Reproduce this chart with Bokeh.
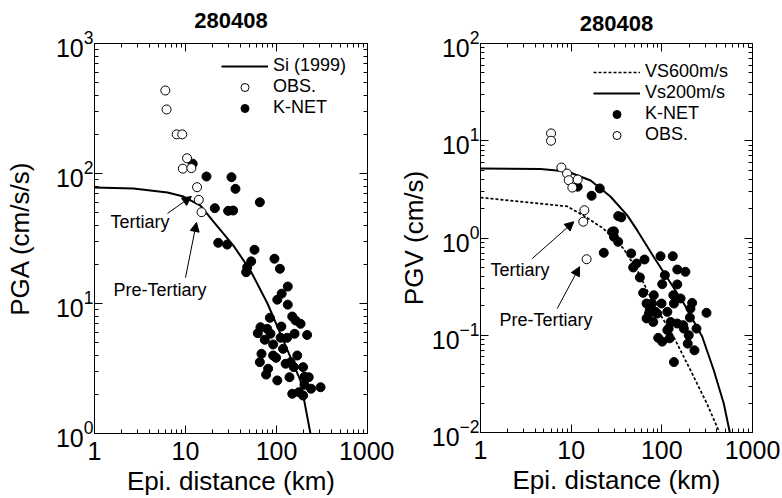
import numpy as np
from bokeh.plotting import figure
from bokeh.layouts import row
from bokeh.models import (LogAxis, FixedTicker, Legend, LegendItem, Arrow,
                          NormalHead, Label, BasicTickFormatter)
from bokeh.embed import file_html
from bokeh.resources import INLINE

FONT = "Liberation Sans"

# ---------------- data : left panel (PGA) ----------------
pga_obs_x = [6.0, 6.2, 8.0, 9.2, 10.4, 9.35, 11.6, 13.4, 14.0, 15.0]
pga_obs_y = [435, 311, 200, 200, 131, 109, 110, 78.5, 62.7, 50.4]

pga_knet_x = [12.0, 17.0, 32.0, 35.4, 65.6, 21.0, 29.4, 33.4, 22.9, 28.7, 57.3, 52.7,
              47.6, 46.4, 95, 109, 133, 114, 102, 133, 149, 184, 162, 84.5, 66.7, 79,
              85.9, 62.3, 74.3, 113, 111, 131, 158, 217, 91.8, 118, 68.4, 65.6, 91.8,
              99, 169, 126, 143, 155, 196, 80.9, 76.9, 139, 203, 226, 102, 203, 240,
              305, 149, 176, 196]
pga_knet_y = [119, 94.8, 93.7, 76.2, 60.1, 54.1, 51.6, 51.9, 29.3, 28.4, 25.9, 21.1,
              19.0, 17.4, 22.1, 18.5, 13.5, 11.9, 10.7, 9.8, 7.94, 6.98, 7.4, 7.76, 6.57,
              6.39, 5.85, 5.91, 5.26, 6.65, 5.45, 5.45, 5.85, 5.73, 4.84, 4.48, 4.1, 3.54,
              3.98, 3.82, 3.98, 3.44, 3.54, 3.24, 3.24, 3.15, 2.84, 2.71, 2.73, 2.71, 2.56,
              2.37, 2.21, 2.27, 2.02, 2.08, 1.96]

si_x = [1.0, 2.68, 6.34, 9.5, 14.6, 20.3, 33.6, 51.8, 79.6, 119, 183, 236]
si_y = [78, 76.7, 71.4, 66.5, 56.7, 42.7, 27.9, 17.9, 10.0, 5.19, 2.56, 1.0]

# ---------------- data : right panel (PGV) ----------------
pgv_obs_x = [6.0, 6.0, 7.8, 9.0, 9.4, 11.8, 10.3, 14.0, 13.6, 14.8]
pgv_obs_y = [11.9, 10.0, 5.31, 4.6, 3.93, 3.99, 3.30, 1.93, 1.47, 0.605]

pgv_knet_x = [11.8, 20.7, 16.8, 33.0, 35.7, 29.6, 28.3, 29.6, 33.0, 22.9, 45.9, 64.4,
              96.7, 132, 52.6, 48.3, 148, 182, 57.3, 108, 101, 148, 62.2, 81.5, 134,
              161, 67.8, 216, 99.2, 73.6, 85, 115, 136, 207, 311, 204, 67.8, 80.4, 125,
              172, 119, 241, 198, 91.2, 101, 122, 193, 229, 136, 72, 89, 78, 148, 175, 115]
pgv_knet_y = [3.37, 3.23, 2.72, 1.68, 1.63, 1.17, 1.16, 1.03, 0.914, 0.705, 0.694, 0.601,
              0.65, 0.65, 0.547, 0.498, 0.474, 0.449, 0.393, 0.415, 0.335, 0.333, 0.273,
              0.258, 0.258, 0.239, 0.212, 0.215, 0.212, 0.184, 0.174, 0.174, 0.212, 0.188,
              0.17, 0.152, 0.149, 0.137, 0.137, 0.127, 0.117, 0.117, 0.1, 0.094, 0.086,
              0.093, 0.082, 0.070, 0.053, 0.167, 0.167, 0.212, 0.132, 0.117, 0.113]

vs200_x = [1.0, 4.6, 9.1, 16.4, 27.1, 41.8, 53.8, 80.8, 175, 279, 374, 482, 562]
vs200_y = [5.19, 5.12, 4.83, 3.90, 2.67, 1.70, 1.19, 0.646, 0.212, 0.0964, 0.0437, 0.0199, 0.01]

vs600_x = [1.0, 9.1, 13.7, 22.7, 37.7, 53.5, 81.5, 135, 207, 314, 432]
vs600_y = [2.61, 2.11, 1.70, 1.25, 0.78, 0.466, 0.212, 0.0964, 0.0437, 0.0199, 0.01]

# ---------------- ticks ----------------
x_major = [1, 10, 100, 1000]
x_minor = [m * d for d in [1, 10, 100] for m in range(2, 10)]
pga_major = [1, 10, 100, 1000]
pga_minor = [m * d for d in [1, 10, 100] for m in range(2, 10)]
pgv_major = [0.01, 0.1, 1, 10, 100]
pgv_minor = [m * d for d in [0.01, 0.1, 1, 10] for m in range(2, 10)]

TITLE = "280408"


def make_fig(yr, ymaj, ymin, ylabel, bl, br, bt, fw, fh, ylab_standoff, title_standoff):
    p = figure(x_axis_type="log", y_axis_type="log", x_range=(1, 1000), y_range=yr,
               frame_width=fw, frame_height=fh, output_backend="svg",
               toolbar_location=None,
               min_border_left=bl, min_border_right=br,
               min_border_top=bt, min_border_bottom=498 - bt - fh)
    p.grid.visible = False
    p.outline_line_color = "black"
    p.outline_line_width = 1
    p.background_fill_color = "white"
    p.border_fill_color = "white"

    xa = p.xaxis[0]
    xa.ticker = FixedTicker(ticks=x_major, minor_ticks=x_minor)
    xa.formatter = BasicTickFormatter()
    xa.axis_label = "Epi. distance (km)"
    xa.major_label_standoff = 8
    xa.axis_label_standoff = 3
    ya = p.yaxis[0]
    ya.ticker = FixedTicker(ticks=ymaj, minor_ticks=ymin)
    ya.axis_label = ylabel
    ya.major_label_standoff = 1
    ya.axis_label_standoff = ylab_standoff
    for ax in (xa, ya):
        ax.major_tick_in = 8
        ax.major_tick_out = 0
        ax.minor_tick_in = 4
        ax.minor_tick_out = 0
        ax.axis_line_color = "black"
        ax.major_tick_line_color = "black"
        ax.minor_tick_line_color = "black"
        ax.major_label_text_font = FONT
        ax.major_label_text_font_size = "25px"
        ax.major_label_text_color = "black"
        ax.axis_label_text_font = FONT
        ax.axis_label_text_font_size = "26px"
        ax.axis_label_text_font_style = "normal"
        ax.axis_label_text_color = "black"

    # top axis: mirrored ticks, its axis label carries the panel title
    top = LogAxis(ticker=FixedTicker(ticks=x_major, minor_ticks=x_minor),
                  major_label_text_font_size="4px", major_label_text_alpha=0,
                  major_label_standoff=0, axis_label=TITLE,
                  axis_label_text_font=FONT, axis_label_text_font_size="22px",
                  axis_label_text_font_style="bold", axis_label_text_color="black",
                  axis_label_standoff=title_standoff)
    right = LogAxis(ticker=FixedTicker(ticks=ymaj, minor_ticks=ymin),
                    major_label_text_font_size="4px", major_label_text_alpha=0,
                    major_label_standoff=0)
    for ax in (top, right):
        ax.major_tick_in = 8
        ax.major_tick_out = 0
        ax.minor_tick_in = 4
        ax.minor_tick_out = 0
        ax.axis_line_color = "black"
        ax.major_tick_line_color = "black"
        ax.minor_tick_line_color = "black"
    p.add_layout(top, "above")
    p.add_layout(right, "right")
    return p


def add_text(p, x, y, t):
    p.add_layout(Label(x=x, y=y, text=t, text_font=FONT, text_font_size="18px",
                       text_baseline="middle", text_align="left", text_color="black"))


def add_arrow(p, x0, y0, x1, y1):
    p.add_layout(Arrow(end=NormalHead(size=9, fill_color="black", line_color="black",
                                      line_width=1),
                       x_start=x0, y_start=y0, x_end=x1, y_end=y1,
                       line_color="black", line_width=1))


# ---------------- left ----------------
p1 = make_fig((1, 1000), pga_major, pga_minor, "PGA (cm/s/s)", 94, 27, 43, 273, 390,
              18, 16)
r_si = p1.line(si_x, si_y, line_color="black", line_width=2)
r_ko = p1.scatter(pga_knet_x, pga_knet_y, size=9, fill_color="black", line_color="black")
r_oo = p1.scatter(pga_obs_x, pga_obs_y, size=9, fill_color="white", line_color="black",
                  line_width=1)
add_arrow(p1, 6.34, 49.3, 11.6, 66.5)
add_arrow(p1, 10.0, 15.8, 13.2, 42.0)
add_text(p1, 1.50, 42.7, "Tertiary")
add_text(p1, 1.62, 12.6, "Pre-Tertiary")
leg1 = Legend(items=[LegendItem(label="Si (1999)", renderers=[r_si]),
                     LegendItem(label="OBS.", renderers=[r_oo]),
                     LegendItem(label="K-NET", renderers=[r_ko])],
              location=(127, 315))
p1.add_layout(leg1)

# ---------------- right ----------------
p2 = make_fig((0.01, 100), pgv_major, pgv_minor, "PGV (cm/s)", 86, 30, 40, 272, 389,
              0, 13)
r_600 = p2.line(vs600_x, vs600_y, line_color="black", line_width=1.7, line_dash="3 2")
r_200 = p2.line(vs200_x, vs200_y, line_color="black", line_width=2)
r_k2 = p2.scatter(pgv_knet_x, pgv_knet_y, size=9, fill_color="black", line_color="black")
r_o2 = p2.scatter(pgv_obs_x, pgv_obs_y, size=9, fill_color="white", line_color="black",
                  line_width=1)
add_arrow(p2, 3.72, 0.615, 10.7, 1.47)
add_arrow(p2, 7.01, 0.188, 12.4, 0.506)
add_text(p2, 1.29, 0.467, "Tertiary")
add_text(p2, 1.62, 0.143, "Pre-Tertiary")
leg2 = Legend(items=[LegendItem(label="VS600m/s", renderers=[r_600]),
                     LegendItem(label="Vs200m/s", renderers=[r_200]),
                     LegendItem(label="K-NET", renderers=[r_k2]),
                     LegendItem(label="OBS.", renderers=[r_o2])],
              location=(113, 287))
p2.add_layout(leg2)

for lg in (leg1, leg2):
    lg.border_line_alpha = 0
    lg.background_fill_alpha = 0
    lg.padding = 0
    lg.margin = 0
    lg.spacing = 0
    lg.glyph_width = 47
    lg.glyph_height = 20
    lg.label_height = 20
    lg.label_standoff = 5
    lg.label_text_font = FONT
    lg.label_text_font_size = "18px"
    lg.label_text_color = "black"

layout = row(p1, p2, spacing=0)
open("out.html", "w").write(file_html(layout, INLINE))
